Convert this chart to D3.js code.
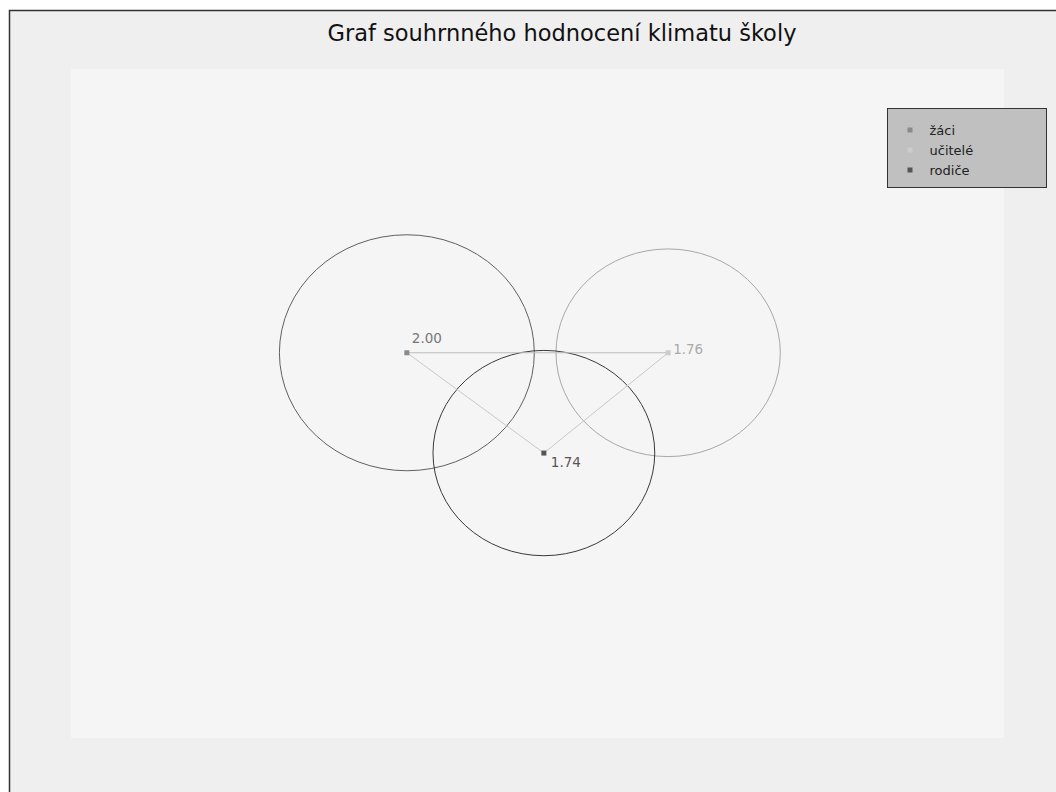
<!DOCTYPE html>
<html><head><meta charset="utf-8">
<script src="https://cdn.jsdelivr.net/npm/d3@7"></script>
<style>html,body{margin:0;padding:0;background:#fff;}svg{display:block;}</style>
</head><body>
<script>
const groups = ["žáci", "učitelé", "rodiče"];
const values = [2.00, 1.76, 1.74];
const posX = [-2.05, 2.05, 0.10];
const posY = [0.86, 0.86, -0.84];
const labels = ["2.00", "1.76", "1.74"];
const markColors = ["#8a8a8a", "#cccccc", "#555555"];
const circleColors = ["#606060", "#a8a8a8", "#3a3a3a"];
const labelColors = ["#777777", "#aaaaaa", "#555555"];
const title = "Graf souhrnného hodnocení klimatu školy";

const W = 1056, H = 792;
const svg = d3.select("body").append("svg").attr("width", W).attr("height", H);

svg.append("rect").attr("x", 9.5).attr("y", 10.5).attr("width", W).attr("height", H)
  .attr("fill", "#efefef").attr("stroke", "#333").attr("stroke-width", 1.5);

const plot = {x0: 71, x1: 1004, y0: 69, y1: 738};
svg.append("rect").attr("x", plot.x0).attr("y", plot.y0)
  .attr("width", plot.x1 - plot.x0).attr("height", plot.y1 - plot.y0).attr("fill", "#f5f5f5");

svg.append("text").attr("x", 562).attr("y", 41).attr("text-anchor", "middle")
  .attr("font-family", "DejaVu Sans").attr("font-size", 22.5).attr("fill", "#111").text(title);

const x = d3.scaleLinear().domain([-7.32, 7.32]).range([plot.x0, plot.x1]);
const y = d3.scaleLinear().domain([-5.67, 5.67]).range([plot.y1, plot.y0]);
const kx = x(1) - x(0), ky = y(0) - y(1);

const data = groups.map((g, i) => ({g, v: values[i], px: posX[i], py: posY[i], lab: labels[i], i}));

const g = svg.append("g");
g.selectAll("ellipse").data(data).join("ellipse")
  .attr("cx", d => x(d.px)).attr("cy", d => y(d.py))
  .attr("rx", d => d.v * kx).attr("ry", d => d.v * ky)
  .attr("fill", "none").attr("stroke", d => circleColors[d.i]).attr("stroke-width", 1);

const pairs = [[0, 1], [0, 2], [2, 1]];
const lineColors = ["#bdbdbd", "#c8c8c8", "#c8c8c8"];
g.selectAll("line.c").data(pairs).join("line").attr("class", "c")
  .attr("x1", p => x(data[p[0]].px)).attr("y1", p => y(data[p[0]].py))
  .attr("x2", p => x(data[p[1]].px)).attr("y2", p => y(data[p[1]].py))
  .attr("stroke", (p, i) => lineColors[i]).attr("stroke-width", 1);

g.selectAll("rect.m").data(data).join("rect").attr("class", "m")
  .attr("x", d => x(d.px) - 2.5).attr("y", d => y(d.py) - 2.5)
  .attr("width", 5).attr("height", 5).attr("fill", d => markColors[d.i]);

const off = [[5, -10], [5, 1], [7, 14]];
g.selectAll("text.l").data(data).join("text").attr("class", "l")
  .attr("x", d => x(d.px) + off[d.i][0]).attr("y", d => y(d.py) + off[d.i][1])
  .attr("font-family", "DejaVu Sans").attr("font-size", 13.5)
  .attr("fill", d => labelColors[d.i]).text(d => d.lab);

const lg = svg.append("g").attr("transform", "translate(887.5,108.5)");
lg.append("rect").attr("width", 159).attr("height", 79).attr("fill", "#c0c0c0").attr("stroke", "#333").attr("stroke-width", 1);
data.forEach((d, i) => {
  lg.append("rect").attr("x", 20).attr("y", 19 + i * 20).attr("width", 5).attr("height", 5).attr("fill", markColors[i]);
  lg.append("text").attr("x", 42).attr("y", 26.5 + i * 20).attr("font-family", "DejaVu Sans")
    .attr("font-size", 13).attr("fill", "#222").text(d.g);
});
</script>
</body></html>
